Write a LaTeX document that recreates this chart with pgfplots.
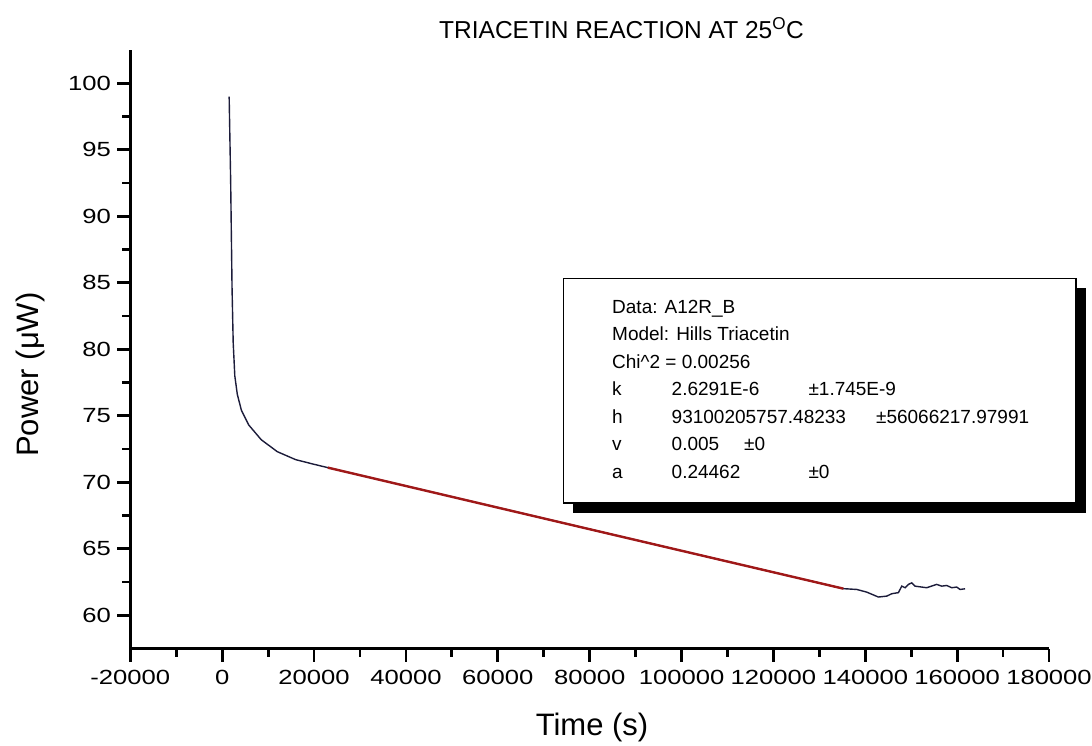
\documentclass[border=0pt]{standalone}
\usepackage{pgfplots}
\pgfplotsset{compat=1.18}
\usepackage{fontspec}
\setmainfont{Liberation Sans}
\newfontfamily\tickfont{Liberation Sans}[FakeStretch=1.25]
\definecolor{datacol}{HTML}{1C1C3A}
\definecolor{fitcol}{HTML}{A01818}
\begin{document}
\begin{tikzpicture}[x=1pt,y=1pt]
\useasboundingbox (0,0) rectangle (1092,-745);
\begin{axis}[
  at={(130.3pt,-648.5pt)}, anchor=south west,
  scale only axis, width=918.7pt, height=598.5pt,
  xmin=-20000, xmax=180000, ymin=57.5, ymax=102.5,
  axis x line*=bottom, axis y line*=left,
  axis line style={-, line width=2.6pt, black},
  scaled x ticks=false, scaled y ticks=false,
  xtick={-20000,0,20000,40000,60000,80000,100000,120000,140000,160000,180000},
  xticklabels={-20000,0,20000,40000,60000,80000,100000,120000,140000,160000,180000},
  ytick={60,65,70,75,80,85,90,95,100},
  yticklabels={60,65,70,75,80,85,90,95,100},
  minor tick num=1,
  tick align=outside,
  major tick length=13pt, minor tick length=8pt,
  tick style={black, line width=2.8pt},
  tick label style={font=\tickfont\fontsize{20.5}{20.5}\selectfont},
  yticklabel style={xshift=-3pt},
  xticklabel style={yshift=-5pt},
  clip=false,
]
\addplot[datacol, line width=1.4pt] table {
x y
1520 99.0
1850 92.6
2150 84.6
2400 80.5
2750 78.0
3300 76.6
4200 75.4
5800 74.3
8500 73.2
12000 72.3
16000 71.7
20000 71.35
23000 71.1
60000 68.1
100000 64.85
135240 62.0
138150 61.94
140320 61.74
142860 61.37
144680 61.44
145770 61.62
147210 61.70
147950 62.19
148670 62.07
149390 62.32
150120 62.44
150840 62.19
152290 62.12
153380 62.07
155560 62.32
156640 62.19
157730 62.24
158820 62.07
159910 62.12
160630 61.94
161720 61.99
};
\addplot[fitcol, line width=2.4pt] table {
x y
23000 71.1
79000 66.55
135240 62.0
};
\end{axis}
% title and axis labels
\node[anchor=base, inner sep=0, font=\fontsize{24.5}{24.5}\selectfont] at (621.5,-38.3) {TRIACETIN REACTION AT 25\textsuperscript{O}C};
\node[anchor=base, inner sep=0, font=\fontsize{31}{31}\selectfont] at (592,-735) {Time (s)};
\node[rotate=90, inner sep=0, font=\fontsize{31}{31}\selectfont] at (30,-374.6) {Power (μW)};
% fit parameter box with shadow
\fill[black] (572.5,-288) rectangle (1085.5,-512.5);
\draw[fill=white, line width=1.3pt] (563.4,-278.4) rectangle (1076,-503);
\begin{scope}[every node/.style={anchor=base west, inner sep=0, font=\fontsize{19}{19}\selectfont}]
\node at (612,-313) {Data: A12R\_B};
\node at (612,-340.5) {Model: Hills Triacetin};
\node at (612,-368) {Chi\textasciicircum 2 = 0.00256};
\node at (612,-395.5) {k};
\node at (671.5,-395.5) {2.6291E-6};
\node at (808.3,-395.5) {±1.745E-9};
\node at (612,-423) {h};
\node at (671.5,-423) {93100205757.48233};
\node at (875.9,-423) {±56066217.97991};
\node at (612,-450.5) {v};
\node at (671.5,-450.5) {0.005};
\node at (744,-450.5) {±0};
\node at (612,-478) {a};
\node at (671.5,-478) {0.24462};
\node at (808.3,-478) {±0};
\end{scope}
\end{tikzpicture}
\end{document}
